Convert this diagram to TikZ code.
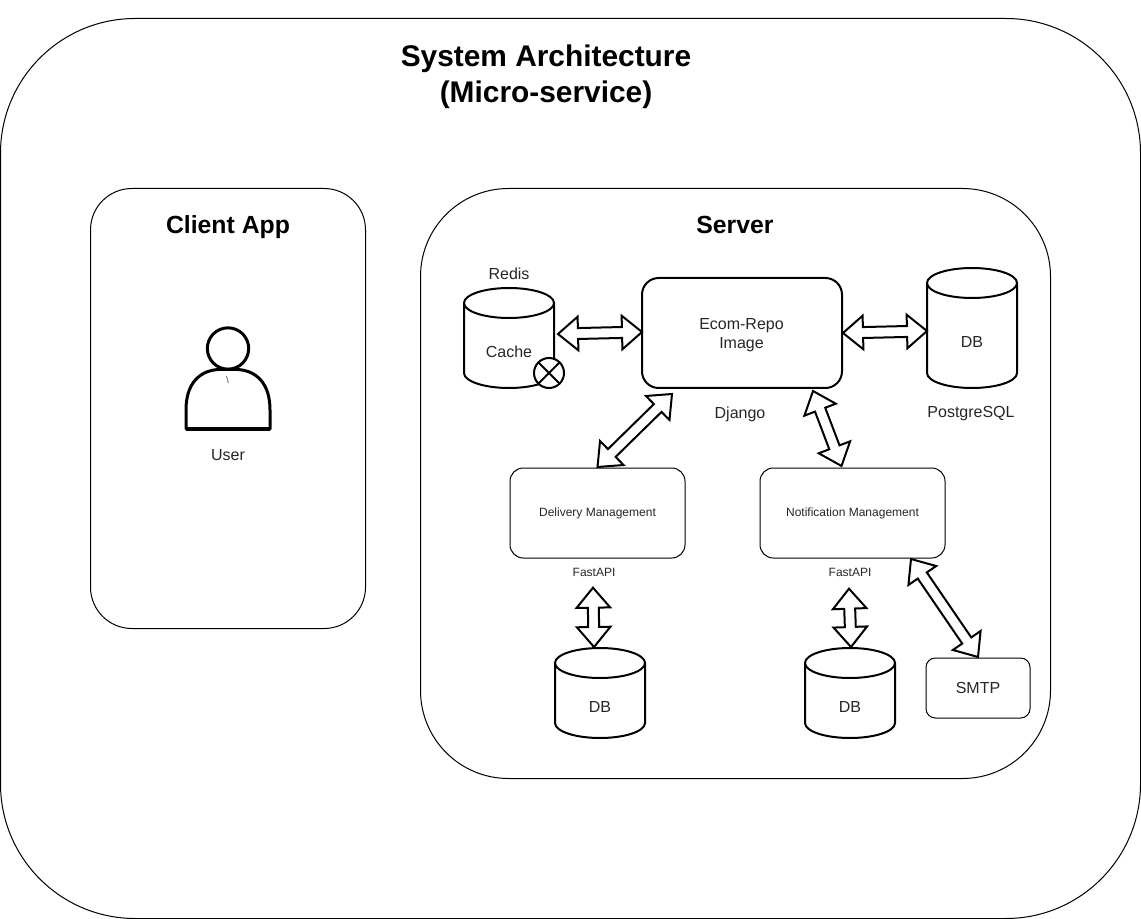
\documentclass[tikz,border=0pt]{standalone}
\usepackage{fontspec}
\setmainfont{Liberation Sans}
\usetikzlibrary{calc}
\tikzset{
  x=0.75pt,y=-0.75pt,
  box/.style={draw=black,line width=0.75pt,fill=none,inner sep=0pt,outer sep=0pt,align=center,text=black!85},
  heavybox/.style={box,line width=1.5pt},
  cylbox/.style={inner sep=0pt,outer sep=0pt,align=center},
  cylline/.style={draw=black,line width=1.5pt,line join=round},
  blockarrow/.style={draw=black,line width=1.5pt,fill=white,line join=miter,miter limit=10},
  lbl/.style={inner sep=0pt,outer sep=0pt,align=center,text=black!85,font=\fontsize{12}{14.6}\selectfont},
  small/.style={inner sep=0pt,outer sep=0pt,align=center,text=black!85,font=\fontsize{9}{11}\selectfont},
  head/.style={inner sep=0pt,outer sep=0pt,align=center,font=\bfseries\fontsize{18.6}{22}\selectfont},
  titlelbl/.style={inner sep=0pt,outer sep=0pt,align=center,font=\bfseries\fontsize{22.4}{27}\selectfont},
}
% name, centre x, top y, height, label, label y
\newcommand\cylnode[6]{%
  \node[cylbox,minimum width=67.5pt,minimum height=#4*0.75pt] (#1) at (#2,#3+#4/2) {};
  \draw[cylline]
    (#2-45,#3+15) .. controls (#2-45,#3+6.7) and (#2-24.85,#3) .. (#2,#3)
    .. controls (#2+24.85,#3) and (#2+45,#3+6.7) .. (#2+45,#3+15)
    .. controls (#2+45,#3+23.3) and (#2+24.85,#3+30) .. (#2,#3+30)
    .. controls (#2-24.85,#3+30) and (#2-45,#3+23.3) .. (#2-45,#3+15)
    -- (#2-45,#3+#4-15)
    .. controls (#2-45,#3+#4-6.7) and (#2-24.85,#3+#4) .. (#2,#3+#4)
    .. controls (#2+24.85,#3+#4) and (#2+45,#3+#4-6.7) .. (#2+45,#3+#4-15)
    -- (#2+45,#3+15);
  \node[lbl] (#1label) at (#2,#6) {#5};
}
% double block arrow between two named coordinates
\newcommand\dblarrow[2]{%
  \draw[blockarrow] let \p1=($(#2)-(#1)$), \n1={atan2(\y1,\x1)}, \n2={veclen(\x1,\y1)} in
    (#1)
    -- ($(#1)+(\n1:15pt)+(\n1+90:12.6pt)$)
    -- ($(#1)+(\n1:15pt)+(\n1+90:4.1pt)$)
    -- ($(#2)+(\n1:-15pt)+(\n1+90:4.1pt)$)
    -- ($(#2)+(\n1:-15pt)+(\n1+90:12.6pt)$)
    -- (#2)
    -- ($(#2)+(\n1:-15pt)+(\n1-90:12.6pt)$)
    -- ($(#2)+(\n1:-15pt)+(\n1-90:4.1pt)$)
    -- ($(#1)+(\n1:15pt)+(\n1-90:4.1pt)$)
    -- ($(#1)+(\n1:15pt)+(\n1-90:12.6pt)$)
    -- cycle;
}
\begin{document}
\begin{tikzpicture}
\useasboundingbox (0,0) rectangle (1141,919);
% containers
\node[box,minimum width=855pt,minimum height=675pt,rounded corners=101pt] (system) at (570.5,468.5) {};
\node[box,minimum width=206.25pt,minimum height=330pt,rounded corners=31pt] (client) at (228,408.5) {};
\node[box,minimum width=472.5pt,minimum height=442.5pt,rounded corners=66pt] (server) at (735.5,483.5) {};
% titles
\node[titlelbl] (title) at (546,76.5) {System Architecture\\(Micro-service)};
\node[head] (clienttitle) at (228,227) {Client App};
\node[head] (servertitle) at (735,224.5) {Server};
% user
\node[circle,draw=black,line width=2.25pt,minimum size=31pt,inner sep=0pt,outer sep=0pt] (userhead) at (228,348.5) {};
\draw[line width=2.25pt,line join=round]
  (186,429) -- (186,410) .. controls (186,385) and (198,371) .. (218,369.5)
  -- (238,369.5) .. controls (258,371) and (270,385) .. (270,410) -- (270,429) -- cycle;
\draw[line width=3pt] (186,429) -- (270,429);
\node[inner sep=0pt,font=\fontsize{7.5}{8}\selectfont,text=black!70] (mark) at (227.5,379.5) {\textbackslash};
\node[lbl] (user) at (228,455) {User};
% services
\node[heavybox,minimum width=150pt,minimum height=82.5pt,rounded corners=12.5pt] (ecom) at (742,333) {};
\node[lbl] (ecomlabel) at (741.5,335) {Ecom-Repo\\Image};
\node[lbl] (django) at (740,414) {Django};
\node[box,minimum width=131.25pt,minimum height=67.5pt,rounded corners=10pt,font=\fontsize{9}{11}\selectfont] (delivery) at (597.5,513) {\raisebox{-1pt}{Delivery Management}};
\node[box,minimum width=138.75pt,minimum height=67.5pt,rounded corners=10pt,font=\fontsize{9}{11}\selectfont] (notify) at (852.5,513) {\raisebox{-1pt}{Notification Management}};
\node[small] (fast1) at (594,572.5) {FastAPI};
\node[small] (fast2) at (850,572.5) {FastAPI};
\node[box,minimum width=78pt,minimum height=45pt,rounded corners=7pt,font=\fontsize{12}{14.6}\selectfont] (smtp) at (978,688) {\raisebox{-1pt}{SMTP}};
% stores
\node[lbl] (redis) at (509,274) {Redis};
\cylnode{cache}{509}{288}{100}{Cache}{352}
\node[circle,draw=black,line width=1.5pt,fill=white,minimum size=22.5pt,inner sep=0pt,outer sep=0pt] (cross) at (549,373) {};
\draw[line width=1.5pt] (cross.north west) -- (cross.south east) (cross.north east) -- (cross.south west);
\cylnode{pg}{972}{268}{120}{DB}{342}
\node[lbl] (postgres) at (971,414) {PostgreSQL};
\cylnode{db1}{600}{648}{90}{DB}{707}
\cylnode{db2}{850}{648}{90}{DB}{707}
% connectors
\dblarrow{$(cache.east)+(4,-4)$}{$(ecom.west)+(0,-1)$}
\dblarrow{$(ecom.east)+(1,0)$}{$(pg.west)+(0,3)$}
\dblarrow{$(delivery.north)+(0,-1)$}{$(ecom.south west)+(30,6)$}
\dblarrow{$(notify.north)+(-11,-2)$}{$(ecom.south east)+(-29,3)$}
\dblarrow{$(db1.north)+(-6,-1)$}{$(fast1.south)+(-1,11)$}
\dblarrow{$(db2.north)+(1,-1)$}{$(fast2.south)+(-1,12)$}
\dblarrow{$(smtp.north)+(0,-1)$}{$(notify.south east)+(-34,1)$}
\end{tikzpicture}
\end{document}
